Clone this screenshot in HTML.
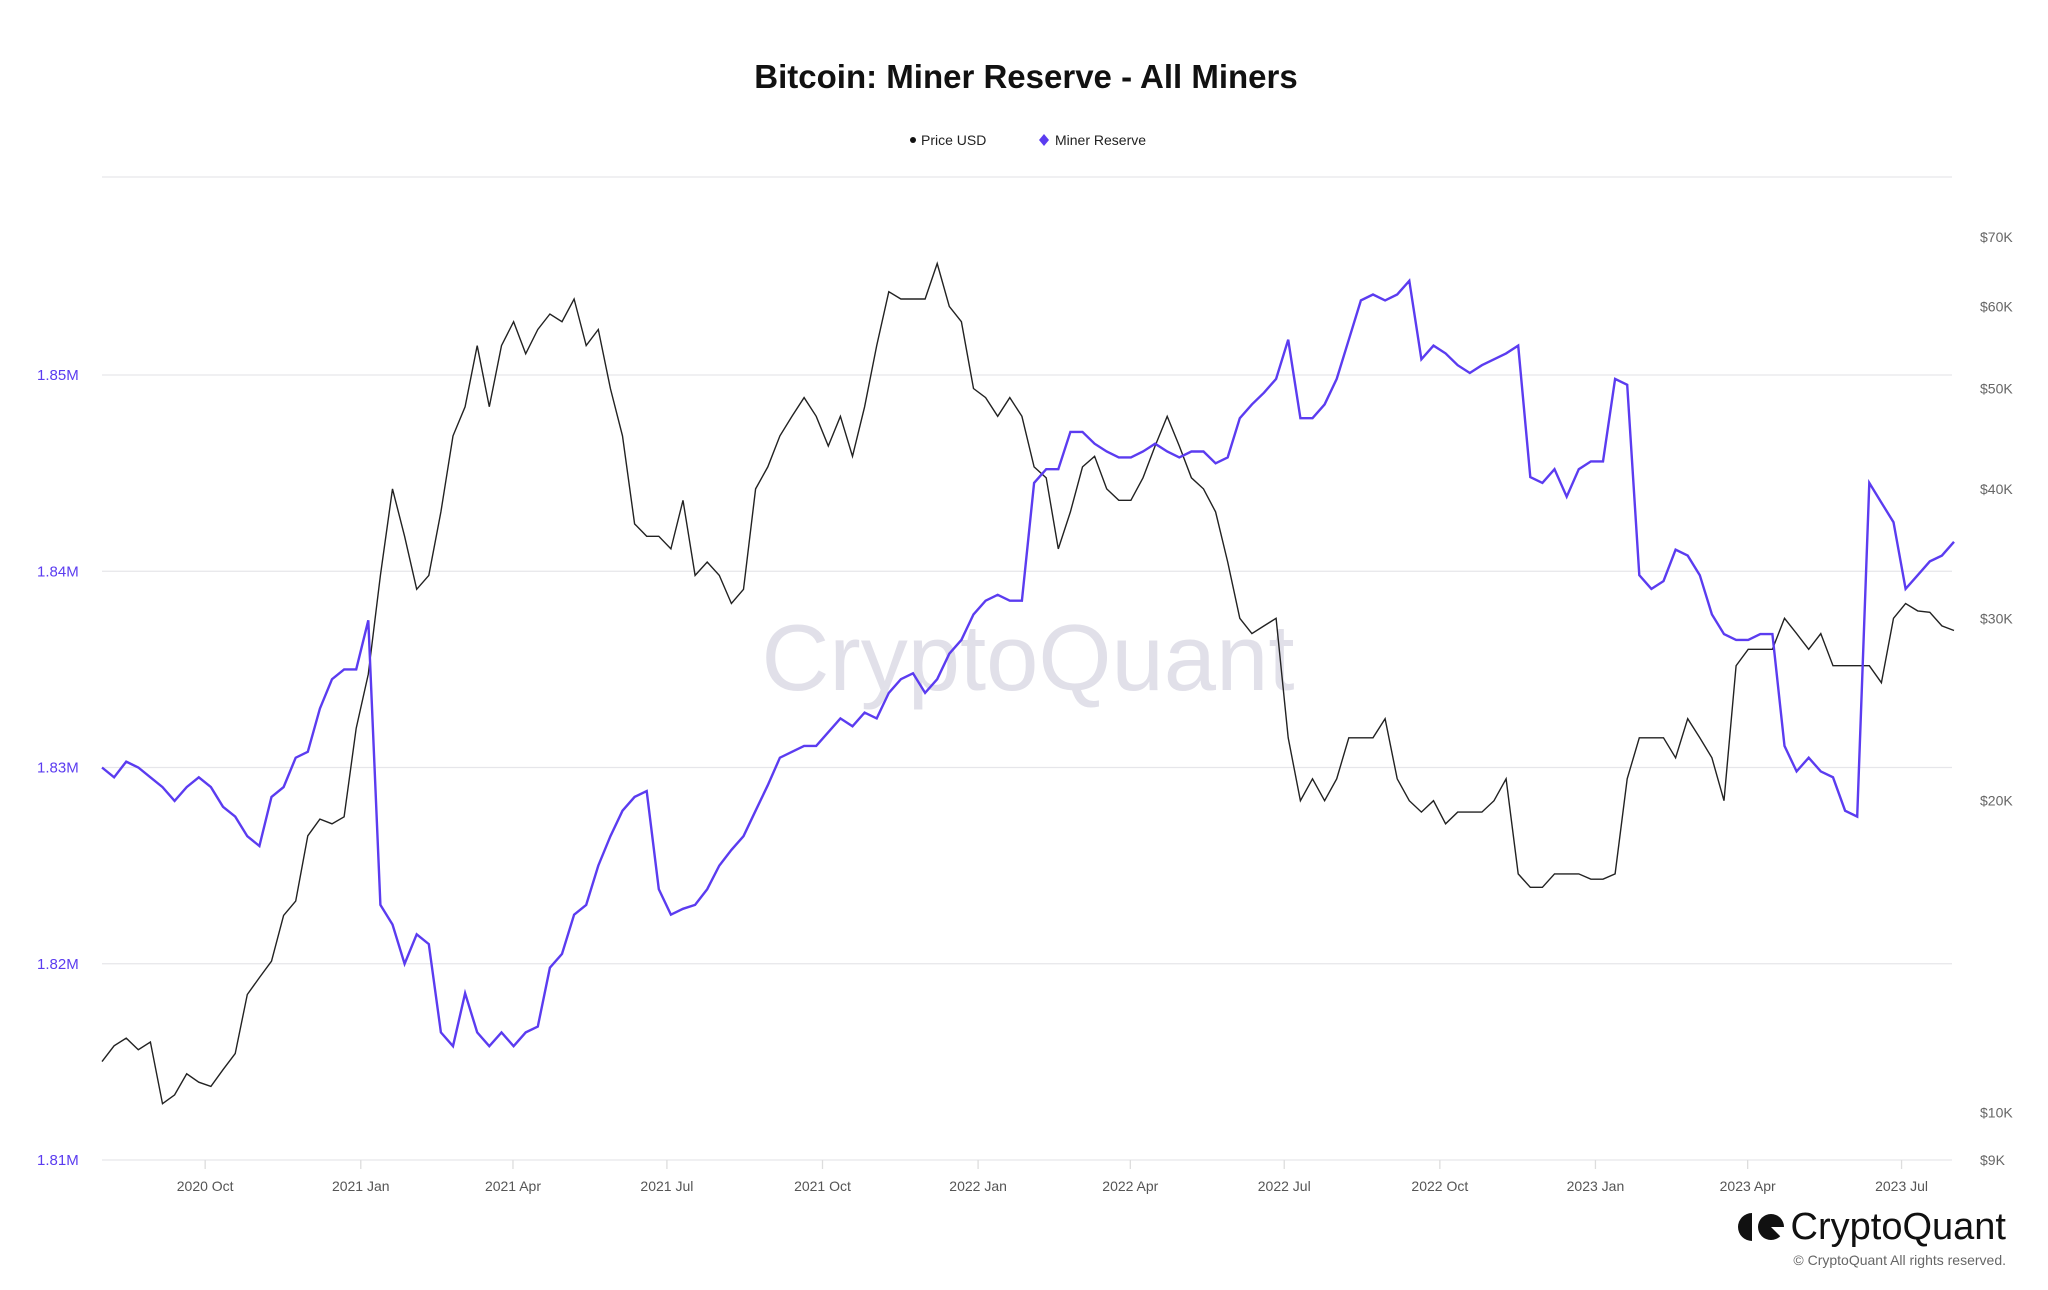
<!DOCTYPE html>
<html><head><meta charset="utf-8"><style>
body{margin:0;background:#fff;font-family:"Liberation Sans",sans-serif}
svg{display:block}
</style></head><body>
<svg id="chart" width="2048" height="1290">
<text x="1026" y="88" text-anchor="middle" font-size="33" font-weight="bold" fill="#111">Bitcoin: Miner Reserve - All Miners</text>
<g>
<g><circle cx="913" cy="140" r="3" fill="#111"/><text x="921" y="145" font-size="14" fill="#222">Price USD</text></g>
<g><path d="M1044 134 L1049 140 L1044 146 L1039 140Z" fill="#5b3cf0"/><text x="1055" y="145" font-size="14" fill="#222">Miner Reserve</text></g>
</g>
<text x="1028" y="690" text-anchor="middle" font-size="94" fill="#e1e0e9">CryptoQuant</text>
<g id="grid"></g><g id="axes"></g><g id="series"></g>
<g>
<path d="M1752 1213 a14 14 0 0 0 0 28 z" fill="#111"/><circle cx="1771" cy="1227" r="13" fill="#111"/><path d="M1771 1227 L1784 1240 L1784 1227Z" fill="#fff"/>
<text x="2006" y="1239" text-anchor="end" font-size="38" fill="#111">CryptoQuant</text>
<text x="2006" y="1265" text-anchor="end" font-size="14" fill="#666">© CryptoQuant All rights reserved.</text>
</g>
</svg>
<script>
const priceK=[11.2,11.6,11.8,11.5,11.7,10.2,10.4,10.9,10.7,10.6,11.0,11.4,13.0,13.5,14.0,15.5,16.0,18.5,19.2,19.0,19.3,23.5,26.5,
33,40,36,32,33,38,45,48,55,48,55,58,54,57,59,58,61,55,57,50,45,37,36,36,35,39,33,34,33,31,32,40,42,45,47,49,47,44,47,43,48,55,62,61,61,61,66,60,58,50,49,47,49,47,
42,41,35,38,42,43,40,39,39,41,44,47,44,41,40,38,34,30,29,29.5,30,23,20,21,20,21,23,23,23,24,21,20,19.5,20,19,19.5,19.5,19.5,20,21,17,16.5,16.5,17,17,17,16.8,16.8,
17,21,23,23,23,22,24,23,22,20,27,28,28,28,30,29,28,29,27,27,27,27,26,30,31,30.5,30.4,29.5,29.2];
const reserveK=[1830,1829.5,1830.3,1830,1829.5,1829,1828.3,1829,1829.5,1829,1828,1827.5,1826.5,1826,1828.5,1829,1830.5,1830.8,1833,1834.5,1835,1835,1837.5,
1823,1822,1820,1821.5,1821,1816.5,1815.8,1818.5,1816.5,1815.8,1816.5,1815.8,1816.5,1816.8,1819.8,1820.5,1822.5,1823,1825,1826.5,1827.8,1828.5,1828.8,1823.8,1822.5,1822.8,1823,1823.8,1825,1825.8,1826.5,1827.8,1829.1,1830.5,1830.8,1831.1,1831.1,1831.8,1832.5,1832.1,1832.8,1832.5,1833.8,1834.5,1834.8,1833.8,1834.5,1835.8,1836.5,1837.8,1838.5,1838.8,1838.5,1838.5,
1844.5,1845.2,1845.2,1847.1,1847.1,1846.5,1846.1,1845.8,1845.8,1846.1,1846.5,1846.1,1845.8,1846.1,1846.1,1845.5,1845.8,1847.8,1848.5,1849.1,1849.8,1851.8,1847.8,1847.8,1848.5,1849.8,1851.8,1853.8,1854.1,1853.8,1854.1,1854.8,1850.8,1851.5,1851.1,1850.5,1850.1,1850.5,1850.8,1851.1,1851.5,1844.8,1844.5,1845.2,1843.8,1845.2,1845.6,1845.6,
1849.8,1849.5,1839.8,1839.1,1839.5,1841.1,1840.8,1839.8,1837.8,1836.8,1836.5,1836.5,1836.8,1836.8,1831.1,1829.8,1830.5,1829.8,1829.5,1827.8,1827.5,1844.5,1843.5,1842.5,1839.1,1839.8,1840.5,1840.8,1841.5];
const leftTicks=[1810,1820,1830,1840,1850];
const rightTicks=[9,10,20,30,40,50,60,70];
const xTickLabels=["2020 Oct","2021 Jan","2021 Apr","2021 Jul","2021 Oct","2022 Jan","2022 Apr","2022 Jul","2022 Oct","2023 Jan","2023 Apr","2023 Jul"];
const xTickDays=[61,153,243,334,426,518,608,699,791,883,973,1064];

const L=102,R=1952,T=177,B=1160,startDay=0,endDay=1095,XR=1957;
const NS="http://www.w3.org/2000/svg";
const xd=d=>L+(d-startDay)/(endDay-startDay)*(XR-L-3);
const yL=v=>B-(v-1810)/40*(B-375);
const yR=v=>B-Math.log10(v/9)*1036;
function mk(tag,attrs,parent){const e=document.createElementNS(NS,tag);for(const k in attrs)e.setAttribute(k,attrs[k]);parent.appendChild(e);return e;}
const grid=document.getElementById('grid'),axes=document.getElementById('axes'),ser=document.getElementById('series');
mk('line',{x1:L,x2:R,y1:T,y2:T,stroke:'#e6e6ea','stroke-width':1.3},grid);
leftTicks.forEach(v=>{
 const g=mk('line',{x1:L,x2:R,y1:yL(v),y2:yL(v),stroke:'#e6e6ea','stroke-width':1.3},grid);
 
 
 const t=mk('text',{x:37,y:yL(v)+5,'font-size':15,fill:'#5b3cf0'},axes);
 t.textContent=(v/1000).toFixed(2)+'M';
 
 
});
rightTicks.forEach(v=>{
 const t=mk('text',{x:1980,y:yR(v)+5,'font-size':14,fill:'#666'},axes);
 t.textContent='$'+v+'K';
 
 
});
xTickLabels.forEach((s,i)=>{
 const x=xd(xTickDays[i]);
 mk('line',{x1:x,x2:x,y1:B,y2:B+9,stroke:'#ddd','stroke-width':1.3},axes);
 const t=mk('text',{x:x,y:1191,'font-size':14,fill:'#555','text-anchor':'middle'},axes);
 t.textContent=s;
 
 
});
function path(arr,yf){const n=arr.length;return arr.map((v,i)=>(i?'L':'M')+xd(startDay+i*(endDay-startDay)/(n-1)).toFixed(1)+' '+yf(v).toFixed(1)).join(' ');}
const p1=mk('path',{d:path(priceK,yR),fill:'none',stroke:'#222','stroke-width':1.4},ser);


const p2=mk('path',{d:path(reserveK,yL),fill:'none',stroke:'#5b3cf0','stroke-width':2.4},ser);


</script>
</body></html>
